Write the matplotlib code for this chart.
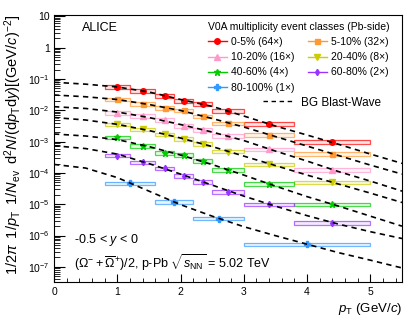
import matplotlib
matplotlib.use('Agg')
import matplotlib.pyplot as plt
import numpy as np
from matplotlib.lines import Line2D
from matplotlib.patches import Rectangle
from matplotlib.ticker import MultipleLocator, LogLocator, FuncFormatter, NullFormatter, FixedLocator

plt.rcParams['font.family'] = ['Liberation Sans', 'DejaVu Sans']
plt.rcParams['mathtext.fontset'] = 'custom'
plt.rcParams['mathtext.rm'] = 'Liberation Sans'
plt.rcParams['mathtext.it'] = 'Liberation Sans:italic'
plt.rcParams['mathtext.bf'] = 'Liberation Sans:bold'

# pT binning (GeV/c)
pt_edges = [0.8, 1.2, 1.6, 1.9, 2.2, 2.5, 3.0, 3.8, 5.0]
pt_mean = [1.0, 1.4, 1.75, 2.05, 2.35, 2.75, 3.4, 4.4]
pt_edges_80 = [0.8, 1.6, 2.2, 3.0, 5.0]
pt_mean_80 = [1.2, 1.9, 2.6, 4.0]

classes = ['0-5%', '5-10%', '10-20%', '20-40%', '40-60%', '60-80%', '80-100%']
scales = [64, 32, 16, 8, 4, 2, 1]

# scaled yields
y_0_5 = [0.0568, 0.0423, 0.0286, 0.0198, 0.0162, 0.0095, 0.00363, 0.00096]
y_5_10 = [0.0224, 0.0162, 0.0121, 0.0100, 0.0064, 0.00384, 0.00166, 0.00041]
y_10_20 = [0.00838, 0.00675, 0.0049, 0.00323, 0.00236, 0.00155, 0.00057, 0.000123]
y_20_40 = [0.00357, 0.00245, 0.0017, 0.00123, 0.00085, 0.00048, 0.00019, 5.0e-5]
y_40_60 = [0.00137, 0.00073, 0.00044, 0.00037, 0.00024, 0.000123, 4.4e-5, 1.0e-5]
y_60_80 = [0.00036, 0.000217, 0.00014, 7.9e-5, 5.1e-5, 2.45e-5, 1.0e-5, 2.55e-6]
y_80_100 = [4.65e-5, 1.17e-5, 3.5e-6, 5.3e-7]
sys_rel = 0.13

# BG blast-wave curves
bw_pt = [0.0, 0.5, 1.0, 1.5, 2.0, 2.5, 3.0, 3.5, 4.0, 4.5, 5.0, 5.5]
bw_0_5 = [0.0784, 0.0682, 0.0555, 0.0384, 0.0221, 0.0133, 0.00656, 0.00314, 0.00162, 0.000817, 0.000400, 0.000202]
bw_5_10 = [0.0308, 0.0270, 0.0221, 0.0153, 0.00984, 0.00546, 0.00292, 0.00145, 0.000721, 0.000358, 0.000178, 9.19e-5]
bw_10_20 = [0.01302, 0.0114, 0.00881, 0.00588, 0.00351, 0.00202, 0.00108, 0.000499, 0.000239, 0.000110, 5.49e-5, 2.63e-5]
bw_20_40 = [0.00587, 0.00489, 0.00356, 0.00226, 0.00130, 0.000695, 0.000345, 0.000172, 8.54e-5, 4.40e-5, 2.27e-5, 1.14e-5]
bw_40_60 = [0.00175, 0.00151, 0.00116, 0.000695, 0.000372, 0.000185, 8.54e-5, 3.80e-5, 1.75e-5, 8.70e-6, 4.17e-6, 2.00e-6]
bw_60_80 = [0.000738, 0.000600, 0.000400, 0.000199, 9.19e-5, 4.09e-5, 1.82e-5, 8.70e-6, 4.33e-6, 2.31e-6, 1.33e-6, 8.07e-7]
bw_80_100 = [0.000187, 0.000143, 7.10e-5, 2.63e-5, 9.72e-6, 4.17e-6, 1.92e-6, 9.93e-7, 5.31e-7, 2.84e-7, 1.64e-7, 9.27e-8]

yields = [y_0_5, y_5_10, y_10_20, y_20_40, y_40_60, y_60_80, y_80_100]
curves = [bw_0_5, bw_5_10, bw_10_20, bw_20_40, bw_40_60, bw_60_80, bw_80_100]

colors = ['#ff0000', '#ff9933', '#ff99cc', '#cccc00', '#00cc00', '#9933ff', '#3399ff']
markers = ['o', 's', '^', 'v', '*', 'd', 'P']
msizes = [4.0, 3.6, 4.0, 4.0, 5.0, 3.2, 4.0]

fig = plt.figure(figsize=(4.11, 3.26), dpi=100)
ax = fig.add_axes([54 / 411, 1 - 282 / 326, 348 / 411, 267 / 326])

for i in range(len(classes)):
    if classes[i] == '80-100%':
        edges, xs = pt_edges_80, pt_mean_80
    else:
        edges, xs = pt_edges, pt_mean
    for j, v in enumerate(yields[i]):
        ax.add_patch(Rectangle((edges[j], v * (1 - sys_rel)), edges[j + 1] - edges[j],
                               v * 2 * sys_rel, facecolor=colors[i], alpha=0.1,
                               edgecolor='none', zorder=2))
        ax.add_patch(Rectangle((edges[j], v * (1 - sys_rel)), edges[j + 1] - edges[j],
                               v * 2 * sys_rel, facecolor='none', edgecolor=colors[i],
                               alpha=0.7, lw=0.9, zorder=2))
    ax.plot(xs, yields[i], ls='none', marker=markers[i], ms=msizes[i], color=colors[i],
            mec=colors[i], zorder=3)
    ax.plot(bw_pt, curves[i], ls=(0, (3.2, 2.6)), color='black', lw=1.2, zorder=4)

ax.set_yscale('log')
ax.set_xlim(0, 5.5)
ax.set_ylim(3.3e-8, 11)

ax.xaxis.set_major_locator(MultipleLocator(1))
ax.xaxis.set_minor_locator(MultipleLocator(0.2))
ax.yaxis.set_major_locator(FixedLocator([10.0 ** e for e in range(-7, 2)]))
ax.yaxis.set_minor_locator(LogLocator(base=10, subs=np.arange(2, 10), numticks=20))
ax.yaxis.set_minor_formatter(NullFormatter())


def log_label(v, pos):
    e = int(round(np.log10(v)))
    if e == 0:
        return '1'
    if e == 1:
        return '10'
    return r'$10^{%d}$' % e


ax.yaxis.set_major_formatter(FuncFormatter(log_label))
ax.tick_params(which='both', direction='in', top=False, right=False, labelsize=7.5)
ax.tick_params(axis='x', which='major', length=6, pad=3.5)
ax.tick_params(axis='x', which='minor', length=3)
ax.tick_params(axis='y', which='major', length=8, pad=3)
ax.tick_params(axis='y', which='minor', length=4.5)

ax.set_xlabel(r'$p_{\rm T}$ (GeV/$c$)', fontsize=9.5, loc='right')
ax.xaxis.set_label_coords(1.0, -0.07)
ax.xaxis.label.set_va('top')
ax.set_ylabel(r'$1/2\pi\;\; 1/p_{\rm T}\;\; 1/N_{\rm ev}\;\; {\rm d}^{2}N/({\rm d}p_{\rm T}{\rm d}y)[({\rm GeV}/c)^{-2}]$',
              fontsize=10.5, loc='top')
ax.yaxis.set_label_coords(-0.085, 1.0)

ax.text(0.08, 0.951, 'ALICE', transform=ax.transAxes, fontsize=9, va='center', ha='left')
ax.text(0.057, 0.157, r'-0.5 < $y$ < 0', transform=ax.transAxes, fontsize=9, va='center', ha='left')
ax.text(0.057, 0.071, r'$(\Omega^{-}+\overline{\Omega}^{+})/2$, p-Pb $\sqrt{s_{\rm NN}}$ = 5.02 TeV',
        transform=ax.transAxes, fontsize=9, va='center', ha='left')

handles = []
for i in range(len(classes)):
    handles.append(Line2D([], [], color=colors[i], alpha=1, lw=1, marker=markers[i],
                          ms=msizes[i], mec=colors[i],
                          label='%s (%d\u00d7)' % (classes[i], scales[i])))
order = [0, 2, 4, 6, 1, 3, 5]
leg = ax.legend([handles[k] for k in order], [handles[k].get_label() for k in order],
                ncol=2, loc='upper left', bbox_to_anchor=(0.43, 0.99), frameon=False,
                fontsize=7.5, title='V0A multiplicity event classes (Pb-side)',
                title_fontsize=7.5, alignment='left', handlelength=1.8, handletextpad=0.4,
                columnspacing=1.3, labelspacing=0.5, borderpad=0.2, borderaxespad=0.2)
ax.add_artist(leg)
bw_handle = Line2D([], [], color='black', ls=(0, (3.2, 2.6)), lw=1.0)
ax.legend([bw_handle], ['BG Blast-Wave'], loc='center left', bbox_to_anchor=(0.6, 0.672),
          frameon=False, fontsize=8.5, handlelength=2.7, handletextpad=0.5, borderpad=0,
          borderaxespad=0)

fig.savefig('out.png', dpi=100)
